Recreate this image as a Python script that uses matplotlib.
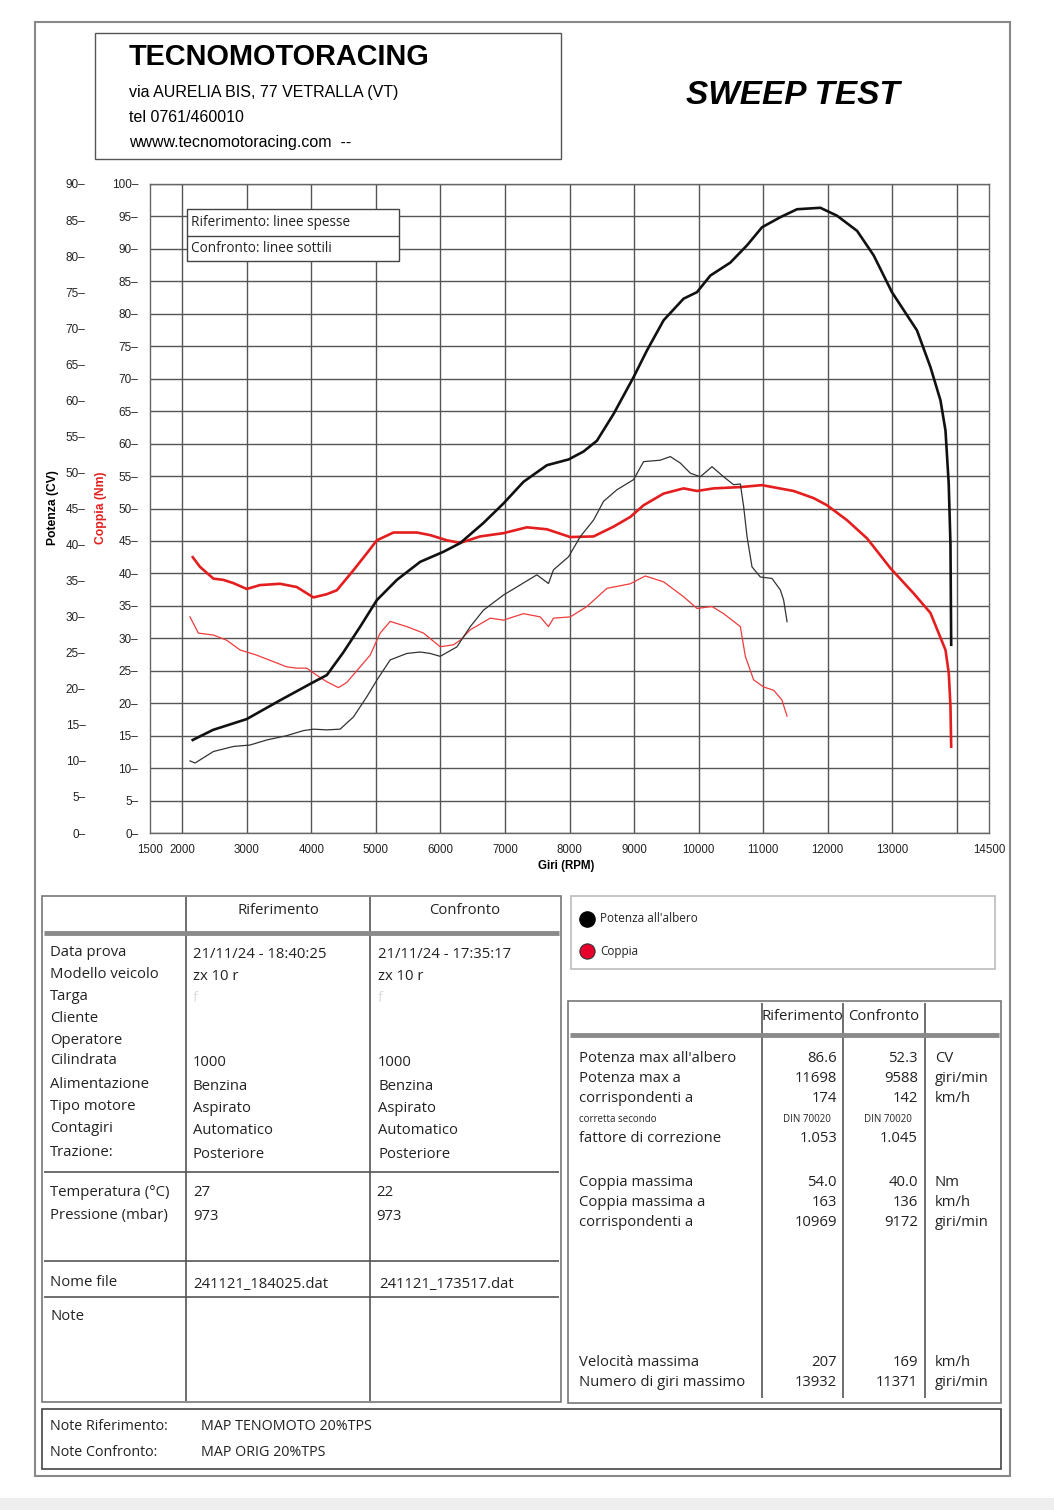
import matplotlib
matplotlib.use("Agg")
import matplotlib.pyplot as plt
from matplotlib.patches import Rectangle

W, H = 1054, 1510
plt.rcParams['font.family'] = ['Open Sans', 'DejaVu Sans']

# --- curves ---
# riferimento (thick lines)
rif_pot_rpm = [2162, 2477, 2999, 3515, 4007, 4240, 4492, 4756, 5015, 5325, 5686, 6047, 6306, 6667,
               6977, 7287, 7649, 7985, 8217, 8425, 8682, 8992, 9199, 9458, 9768, 9975, 10182,
               10492, 10751, 10983, 11267, 11526, 11887, 12146, 12456, 12713, 12996, 13384,
               13593, 13748, 13826, 13876, 13903, 13914]
rif_pot_cv = [12.9, 14.3, 15.8, 18.4, 20.8, 21.9, 25.0, 28.6, 32.3, 35.1, 37.6, 39.0, 40.2, 43.0,
              45.7, 48.7, 51.0, 51.8, 52.9, 54.4, 58.1, 63.2, 66.9, 71.1, 74.1, 75.0, 77.3,
              79.1, 81.5, 84.0, 85.4, 86.5, 86.7, 85.6, 83.5, 80.1, 75.0, 69.7,
              64.6, 60.0, 55.8, 48.4, 40.0, 26.1]
rif_cop_rpm = [2162, 2275, 2482, 2637, 2792, 2999, 3205, 3515, 3774, 4032, 4240, 4395, 4653, 4860,
               5015, 5273, 5635, 5841, 6100, 6306, 6616, 6977, 7339, 7649, 8012, 8373, 8682,
               8942, 9148, 9458, 9768, 9975, 10233, 10647, 10983, 11473, 11783, 11990, 12300,
               12610, 12973, 13334, 13593, 13826, 13877, 13903, 13914]
rif_cop_nm = [42.5, 41.0, 39.2, 39.0, 38.5, 37.6, 38.2, 38.4, 37.9, 36.3, 36.8, 37.4, 40.5, 43.1,
              45.1, 46.3, 46.3, 45.9, 45.1, 44.7, 45.7, 46.2, 47.1, 46.8, 45.6, 45.7, 47.2,
              48.7, 50.5, 52.3, 53.1, 52.7, 53.1, 53.3, 53.6, 52.7, 51.6, 50.5, 48.2,
              45.4, 40.8, 36.9, 33.9, 28.2, 24.6, 19.5, 13.3]
# confronto (thin lines)
conf_pot_rpm = [2120, 2198, 2482, 2792, 3050, 3309, 3619, 3877, 4032, 4240, 4446, 4653, 4860, 5015,
                5221, 5480, 5686, 5841, 5996, 6254, 6461, 6667, 6977, 7236, 7494, 7674, 7752,
                7985, 8167, 8373, 8528, 8735, 8992, 9148, 9406, 9562, 9717, 9872, 10027, 10208,
                10388, 10543, 10647, 10698, 10751, 10828, 10957, 11138, 11267, 11318, 11371]
conf_pot_cv = [10.0, 9.7, 11.3, 12.0, 12.2, 12.9, 13.5, 14.2, 14.4, 14.3, 14.4, 16.1, 18.9, 21.2,
               24.0, 24.9, 25.1, 24.9, 24.5, 25.8, 28.6, 30.9, 33.0, 34.4, 35.8, 34.6, 36.5,
               38.3, 41.1, 43.4, 46.0, 47.6, 49.0, 51.5, 51.7, 52.2, 51.3, 49.9, 49.4, 50.8,
               49.4, 48.3, 48.4, 45.3, 41.1, 36.9, 35.5, 35.3, 33.7, 32.3, 29.3]
conf_cop_rpm = [2120, 2249, 2482, 2689, 2895, 3154, 3412, 3619, 3774, 3929, 4084, 4240, 4420, 4549,
                4756, 4911, 5066, 5221, 5480, 5738, 5996, 6202, 6306, 6461, 6771, 6977, 7287,
                7546, 7674, 7752, 8012, 8270, 8580, 8942, 9174, 9458, 9768, 9975, 10208, 10388,
                10647, 10725, 10853, 11008, 11163, 11291, 11371]
conf_cop_nm = [33.3, 30.8, 30.5, 29.7, 28.2, 27.4, 26.4, 25.6, 25.4, 25.4, 24.3, 23.3, 22.4, 23.2,
               25.6, 27.4, 30.8, 32.6, 31.8, 30.8, 28.7, 29.0, 29.7, 31.3, 33.1, 32.8, 33.8,
               33.3, 31.8, 33.1, 33.3, 34.9, 37.7, 38.4, 39.6, 38.7, 36.4, 34.6, 34.9, 33.8,
               31.8, 27.2, 23.6, 22.5, 22.0, 20.5, 18.0]

# --- tables ---
info_labels = ["Data prova", "Modello veicolo", "Targa", "Cliente", "Operatore", "Cilindrata",
               "Alimentazione", "Tipo motore", "Contagiri", "Trazione:"]
info_rif = ["21/11/24 - 18:40:25", "zx 10 r", "f", "", "", "1000", "Benzina", "Aspirato",
            "Automatico", "Posteriore"]
info_conf = ["21/11/24 - 17:35:17", "zx 10 r", "f", "", "", "1000", "Benzina", "Aspirato",
             "Automatico", "Posteriore"]
amb_labels = ["Temperatura (°C)", "Pressione (mbar)"]
amb_rif = ["27", "973"]
amb_conf = ["22", "973"]
file_rif = "241121_184025.dat"
file_conf = "241121_173517.dat"

stat_labels = ["Potenza max all'albero", "Potenza max a", "corrispondenti a", "corretta secondo",
               "fattore di correzione", "Coppia massima", "Coppia massima a", "corrispondenti a",
               "Velocità massima", "Numero di giri massimo"]
stat_rif = ["86.6", "11698", "174", "DIN 70020", "1.053", "54.0", "163", "10969", "207", "13932"]
stat_conf = ["52.3", "9588", "142", "DIN 70020", "1.045", "40.0", "136", "9172", "169", "11371"]
stat_unit = ["CV", "giri/min", "km/h", "", "", "Nm", "km/h", "giri/min", "km/h", "giri/min"]

note_rif = "MAP TENOMOTO 20%TPS"
note_conf = "MAP ORIG 20%TPS"

fig = plt.figure(figsize=(W / 100, H / 100), dpi=100)
arial = ['Liberation Sans', 'DejaVu Sans']

# main chart
ax = fig.add_axes([150 / W, 1 - 833 / H, 839 / W, 649 / H])
ax.set_xlim(1500, 14500)
ax.set_ylim(0, 100)
major = list(range(2000, 14001, 1000))
ax.set_xticks(major)
ax.set_xticklabels([str(v) if v != 14000 else "" for v in major])
ax.set_xticks([1500, 14500], minor=True)
ax.set_xticklabels(["1500", "14500"], minor=True)
ax.set_yticks(range(0, 101, 5))
ax.set_yticklabels([f"{v}–" for v in range(0, 101, 5)])
ax.tick_params(axis='x', which='both', length=0, pad=8, labelsize=8.3, labelcolor='#222')
ax.tick_params(axis='y', length=0, pad=8.5, labelsize=8.5, labelcolor='#222')
for lab in ax.get_xticklabels(which='both') + ax.get_yticklabels():
    lab.set_family(arial)
ax.grid(True, which='major', color='#555555', lw=1.0)
for s in ax.spines.values():
    s.set_color('#666666')
    s.set_linewidth(1.0)

ax2 = ax.twinx()
ax2.set_ylim(0, 90)
ax2.set_yticks(range(0, 91, 5))
ax2.set_yticklabels([f"{v}–" for v in range(0, 91, 5)])
ax2.yaxis.tick_left()
ax2.tick_params(axis='y', length=0, pad=46.5, labelsize=8.5, labelcolor='#222')
for lab in ax2.get_yticklabels():
    lab.set_family(arial)
for s in ax2.spines.values():
    s.set_visible(False)

ax.plot(rif_cop_rpm, rif_cop_nm, color='#e41e1e', lw=1.9, zorder=3)
ax.plot(conf_cop_rpm, conf_cop_nm, color='#ef3b3b', lw=0.9, zorder=3)
ax2.plot(rif_pot_rpm, rif_pot_cv, color='#111111', lw=1.9, zorder=3)
ax2.plot(conf_pot_rpm, conf_pot_cv, color='#333333', lw=0.9, zorder=3)

fig.text(566 / W, 1 - 866 / H, "Giri (RPM)", ha='center', va='center', fontsize=8.3,
         fontweight='bold', family=arial)
fig.text(53 / W, 1 - 508 / H, "Potenza (CV)", rotation=90, ha='center', va='center',
         fontsize=8.7, fontweight='bold', family=arial)
fig.text(101 / W, 1 - 508 / H, "Coppia (Nm)", rotation=90, ha='center', va='center',
         fontsize=8.7, fontweight='bold', color='#e41e1e', family=arial)

# overlay in page pixels for boxes and tables
ov = fig.add_axes([0, 0, 1, 1])
ov.set_xlim(0, W)
ov.set_ylim(H, 0)
ov.axis('off')
ov.patch.set_visible(False)


def box(x0, y0, x1, y1, ec='#666666', lw=1.2, fc='none'):
    ov.add_patch(Rectangle((x0, y0), x1 - x0, y1 - y0, fc=fc, ec=ec, lw=lw))


def hline(y, x0, x1, color='#555555', lw=1.2):
    ov.plot([x0, x1], [y, y], color=color, lw=lw, solid_capstyle='butt')


def vline(x, y0, y1, color='#555555', lw=1.2):
    ov.plot([x, x], [y0, y1], color=color, lw=lw, solid_capstyle='butt')


def txt(x, y, s, size=10.7, ha='left', **kw):
    ov.text(x, y, s, fontsize=size, ha=ha, va='center', **kw)


ov.add_patch(Rectangle((0, 1498), W, 12, fc='#eeeeee', ec='none'))
box(35, 22, 1010, 1476, ec='#888888', lw=1.5)

# header
box(95, 33, 561, 159, ec='#555555', lw=1.0)
txt(129, 57, "TECNOMOTORACING", size=20.8, fontweight='bold', family=arial)
txt(129, 93, "via AURELIA BIS, 77 VETRALLA (VT)", size=11.5, family=arial)
txt(129, 117, "tel 0761/460010", size=11.5, family=arial)
txt(129, 142, "wwww.tecnomotoracing.com  --", size=11.5, family=arial)
txt(793, 95, "SWEEP TEST", size=24, ha='center', fontweight='bold', fontstyle='italic',
    family=arial)

# legend inside chart
box(187, 209, 399, 261, ec='#444444', lw=1.0, fc='white')
hline(236, 187, 399, color='#444444', lw=1.0)
txt(191, 223, "Riferimento: linee spesse", size=9.8, color='#222')
txt(191, 248, "Confronto: linee sottili", size=9.8, color='#222')

# left table
box(42, 896, 561, 1402, ec='#777777')
vline(186, 897, 1401)
vline(370, 897, 1401)
hline(933, 44, 559, color='#8a8a8a', lw=3.5)
for y in (1172, 1261, 1297):
    hline(y, 44, 559)
txt(278, 910, "Riferimento", ha='center', color='#222')
txt(465, 910, "Confronto", ha='center', color='#222')
info_y = [953, 974, 996, 1019, 1040, 1061, 1084, 1107, 1129, 1152]
for lab, r, c, y in zip(info_labels, info_rif, info_conf, info_y):
    tcol = '#dddddd' if lab == "Targa" else '#222'
    txt(50, y, lab, color='#222')
    txt(193, y + 2, r, color=tcol)
    txt(378, y + 2, c, color=tcol)
for lab, r, c, y in zip(amb_labels, amb_rif, amb_conf, [1193, 1216]):
    txt(50, y, lab, color='#222')
    txt(193, y, r, color='#222')
    txt(376, y, c, color='#222')
txt(50, 1282, "Nome file", color='#222')
txt(193, 1285, file_rif, color='#222')
txt(379, 1285, file_conf, color='#222')
txt(51, 1317, "Note", color='#222')

# legend box right
box(571, 896, 995, 969, ec='#bbbbbb', lw=1.2)
ov.scatter([587], [919], s=120, color='black', zorder=5)
ov.scatter([587], [951], s=120, color='#e8002d', edgecolor='#333333', lw=0.8, zorder=5)
txt(600, 919, "Potenza all'albero", size=8.5, color='#222')
txt(600, 951, "Coppia", size=8.5, color='#222')

# right table
box(568, 1001, 1001, 1403, ec='#777777')
for x in (762, 843, 925):
    vline(x, 1003, 1398)
hline(1035, 570, 999, color='#8a8a8a', lw=3.5)
txt(802, 1017, "Riferimento", ha='center', color='#222')
txt(884, 1017, "Confronto", ha='center', color='#222')
stat_y = [1058, 1079, 1099, 1119, 1139, 1182, 1202, 1222, 1363, 1383]
for lab, r, c, u, y in zip(stat_labels, stat_rif, stat_conf, stat_unit, stat_y):
    small = lab == "corretta secondo"
    sz = 7 if small else 10.7
    txt(579, y, lab, size=sz, color='#222')
    txt(831 if small else 837, y, r, size=sz, ha='right', color='#222')
    txt(912 if small else 918, y, c, size=sz, ha='right', color='#222')
    txt(935, y, u, color='#222')

# notes
box(42, 1409, 1001, 1469, ec='#444444', lw=1.2)
txt(50, 1427, "Note Riferimento:", size=10.3, color='#222')
txt(201, 1427, note_rif, size=10.3, color='#222')
txt(50, 1453, "Note Confronto:", size=10.3, color='#222')
txt(201, 1453, note_conf, size=10.3, color='#222')

fig.savefig("out.png", dpi=100)
